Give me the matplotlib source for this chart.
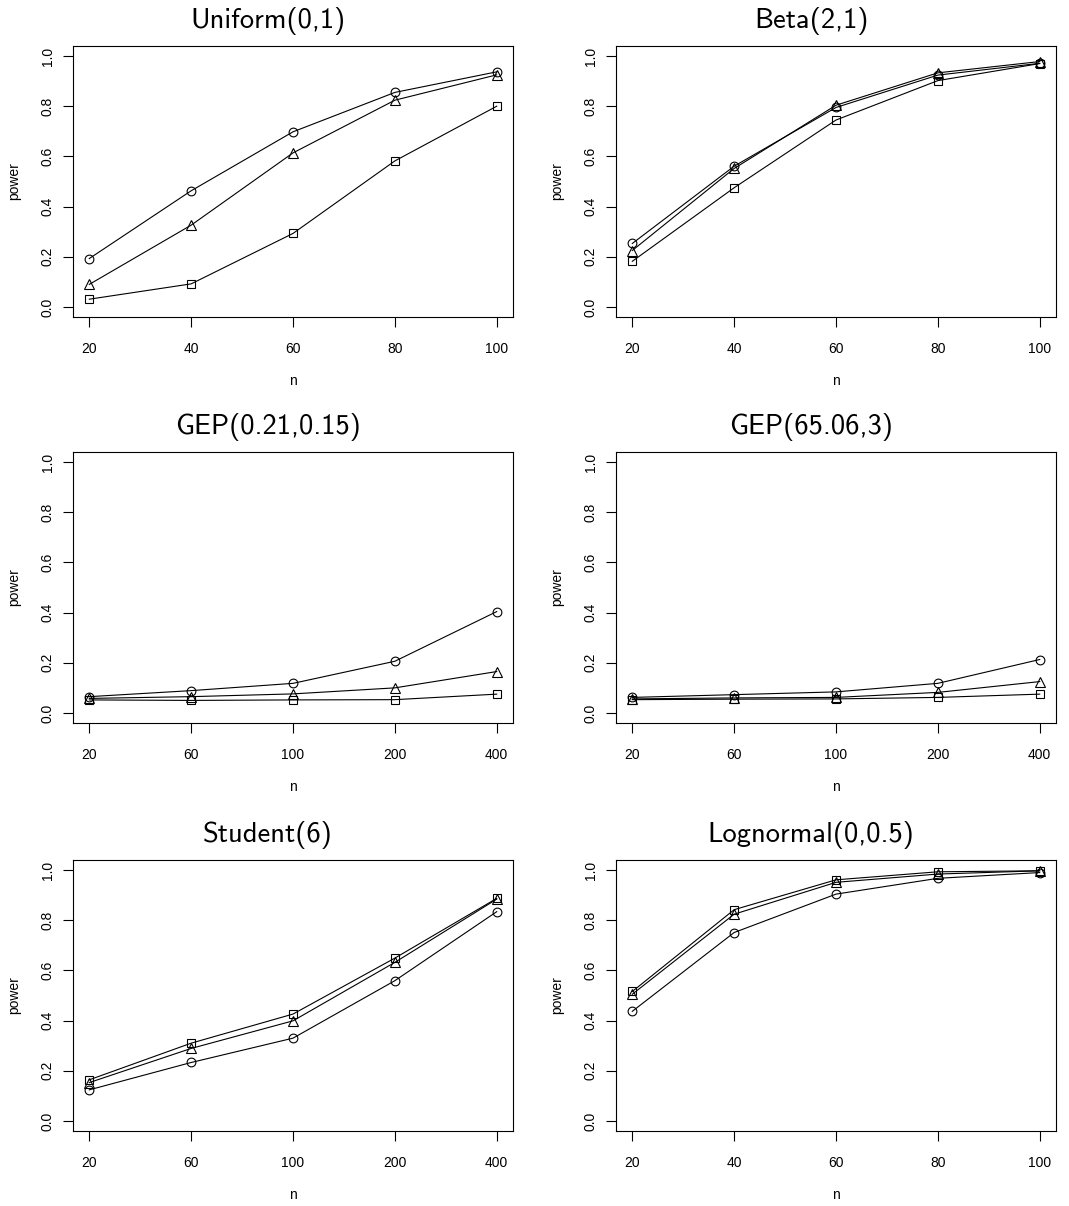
import matplotlib
matplotlib.use("Agg")
import matplotlib.pyplot as plt

# sample sizes
n_cont = [20, 40, 60, 80, 100]
n_cat = ["20", "60", "100", "200", "400"]

# power values: circle / triangle / square series
unif_circle = [0.193, 0.463, 0.698, 0.855, 0.937]
unif_triangle = [0.090, 0.326, 0.614, 0.824, 0.925]
unif_square = [0.031, 0.092, 0.293, 0.582, 0.800]

beta_circle = [0.253, 0.561, 0.795, 0.924, 0.971]
beta_triangle = [0.225, 0.552, 0.804, 0.933, 0.978]
beta_square = [0.182, 0.475, 0.745, 0.902, 0.970]

gep1_circle = [0.065, 0.089, 0.118, 0.206, 0.404]
gep1_triangle = [0.058, 0.065, 0.076, 0.100, 0.165]
gep1_square = [0.052, 0.050, 0.052, 0.053, 0.075]

gep2_circle = [0.062, 0.073, 0.084, 0.118, 0.213]
gep2_triangle = [0.056, 0.060, 0.062, 0.082, 0.125]
gep2_square = [0.053, 0.055, 0.056, 0.062, 0.075]

stud_circle = [0.124, 0.233, 0.330, 0.559, 0.834]
stud_triangle = [0.153, 0.289, 0.399, 0.632, 0.884]
stud_square = [0.164, 0.310, 0.426, 0.649, 0.887]

logn_circle = [0.437, 0.751, 0.904, 0.967, 0.990]
logn_triangle = [0.505, 0.824, 0.951, 0.984, 0.997]
logn_square = [0.516, 0.842, 0.961, 0.993, 0.997]

panels = [
    ("Uniform(0,1)", False, unif_circle, unif_triangle, unif_square),
    ("Beta(2,1)", False, beta_circle, beta_triangle, beta_square),
    ("GEP(0.21,0.15)", True, gep1_circle, gep1_triangle, gep1_square),
    ("GEP(65.06,3)", True, gep2_circle, gep2_triangle, gep2_square),
    ("Student(6)", True, stud_circle, stud_triangle, stud_square),
    ("Lognormal(0,0.5)", False, logn_circle, logn_triangle, logn_square),
]

W, H = 1069, 1206
fig = plt.figure(figsize=(W / 100, H / 100), dpi=100)
plt.rcParams["font.family"] = ["Liberation Sans", "DejaVu Sans"]

lefts = [73, 616]
tops = [46, 452, 860]
aw, ah = 440, 271

for i, (title, categorical, yc, yt, ys) in enumerate(panels):
    r, c = divmod(i, 2)
    ax = fig.add_axes([lefts[c] / W, 1 - (tops[r] + ah) / H, aw / W, ah / H])
    if categorical:
        x = list(range(1, 6))
        ax.set_xticks(x)
        ax.set_xticklabels(n_cat)
        ax.set_xlim(1 - 0.16, 5 + 0.16)
    else:
        x = n_cont
        ax.set_xticks(n_cont)
        ax.set_xlim(20 - 3.2, 100 + 3.2)
    kw = dict(color="black", lw=0.8, mfc="none", mec="black", mew=0.8)
    ax.plot(x, yc, marker="o", ms=6.3, **kw)
    ax.plot(x, yt, marker="^", ms=7, **kw)
    ax.plot(x, ys, marker="s", ms=5.5, **kw)
    ax.set_ylim(-0.04, 1.04)
    ax.set_yticks([0.0, 0.2, 0.4, 0.6, 0.8, 1.0])
    ax.set_yticklabels(["0.0", "0.2", "0.4", "0.6", "0.8", "1.0"])
    for s in ax.spines.values():
        s.set_linewidth(0.8)
    ax.tick_params(axis="both", direction="out", length=7, width=0.8, labelsize=10)
    ax.tick_params(axis="x", pad=11)
    ax.tick_params(axis="y", pad=6)
    for lab in ax.get_yticklabels():
        lab.set_rotation(90)
        lab.set_va("center")
    ax.set_xlabel("n", fontsize=10, va="center")
    ax.xaxis.set_label_coords(0.5, -64 / ah)
    ax.set_ylabel("power", fontsize=10, va="center")
    ax.yaxis.set_label_coords(-59 / aw, 0.5)
    # title sits centred over the panel cell, a bit left of the box centre
    ax.text(0.5 - 25 / aw, 1 + 25 / ah, title, transform=ax.transAxes, ha="center",
            va="center", fontsize=20.5, family="cmss10")

fig.savefig("out.png", dpi=100)
